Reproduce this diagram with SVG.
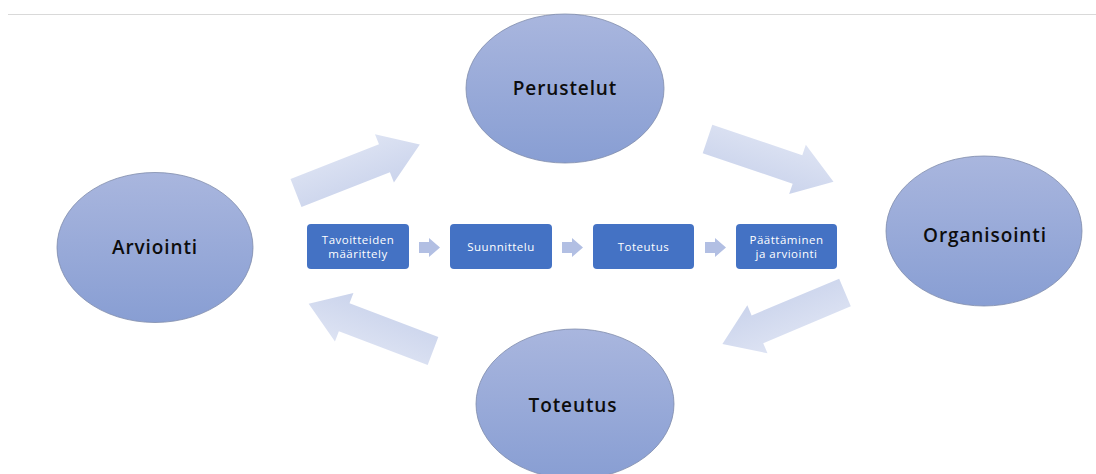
<svg xmlns="http://www.w3.org/2000/svg" width="1096" height="474" viewBox="0 0 1096 474">
  <defs>
    <linearGradient id="ellGrad" x1="0" y1="0" x2="0" y2="1">
      <stop offset="0" stop-color="#a9b6de"/>
      <stop offset="1" stop-color="#889ed3"/>
    </linearGradient>
    <linearGradient id="arrGrad" x1="0" y1="0" x2="0" y2="1">
      <stop offset="0" stop-color="#dde3f3"/>
      <stop offset="1" stop-color="#cbd4ec"/>
    </linearGradient>
    <path id="bigArrow" d="M0,-15 L95,-15 L95,-26 L133,0 L95,26 L95,15 L0,15 Z"/>
    <path id="smallArrow" d="M0,-5.5 L10,-5.5 L10,-9.5 L21,0 L10,9.5 L10,5.5 L0,5.5 Z"/>
  </defs>
  <style>
    .ell { fill: url(#ellGrad); stroke: #7f8bab; stroke-width: 0.8; }
    .big { font-family: "Open Sans", "Liberation Sans", sans-serif; font-size: 19px; font-weight: 600; letter-spacing: 0.9px; fill: #0d0d0d; text-anchor: middle; }
    .box { fill: #4472c4; }
    .small { font-family: "Open Sans", "Liberation Sans", sans-serif; font-size: 11.5px; letter-spacing: 0.5px; fill: #ffffff; text-anchor: middle; }
    .barrow { fill: url(#arrGrad); }
    .sarrow { fill: #b2bfe3; }
  </style>
  <rect x="0" y="0" width="1096" height="474" fill="#ffffff"/>
  <line x1="8" y1="14.5" x2="1096" y2="14.5" stroke="#d9d9d9" stroke-width="1"/>

  <g id="connectors">
    <use href="#bigArrow" class="barrow" transform="translate(296,193) rotate(-21.4)"/>
    <use href="#bigArrow" class="barrow" transform="translate(707.5,139) rotate(18.7)"/>
    <use href="#bigArrow" class="barrow" transform="translate(845,292.5) rotate(157.2)"/>
    <use href="#bigArrow" class="barrow" transform="translate(433,351) rotate(200.8)"/>
    <use href="#smallArrow" class="sarrow" transform="translate(419,247.5)"/>
    <use href="#smallArrow" class="sarrow" transform="translate(562,247.5)"/>
    <use href="#smallArrow" class="sarrow" transform="translate(705,247.5)"/>
  </g>

  <g id="node-perustelut">
    <ellipse class="ell" cx="565" cy="88.5" rx="99" ry="74.5"/>
    <text class="big" x="565" y="95">Perustelut</text>
  </g>
  <g id="node-organisointi">
    <ellipse class="ell" cx="984" cy="231" rx="98" ry="75"/>
    <text class="big" x="985" y="242">Organisointi</text>
  </g>
  <g id="node-toteutus">
    <ellipse class="ell" cx="575" cy="404" rx="99" ry="75"/>
    <text class="big" x="573" y="412">Toteutus</text>
  </g>
  <g id="node-arviointi">
    <ellipse class="ell" cx="155" cy="247.5" rx="98" ry="75"/>
    <text class="big" x="155" y="254">Arviointi</text>
  </g>

  <g id="node-tavoitteiden">
    <rect class="box" x="307" y="224" width="102" height="45" rx="4"/>
    <text class="small" x="358" y="244">Tavoitteiden</text>
    <text class="small" x="358" y="258">määrittely</text>
  </g>
  <g id="node-suunnittelu">
    <rect class="box" x="450" y="224" width="102" height="45" rx="4"/>
    <text class="small" x="501" y="251">Suunnittelu</text>
  </g>
  <g id="node-toteutus-box">
    <rect class="box" x="593" y="224" width="101" height="45" rx="4"/>
    <text class="small" x="643.5" y="251">Toteutus</text>
  </g>
  <g id="node-paattaminen">
    <rect class="box" x="736" y="224" width="101" height="45" rx="4"/>
    <text class="small" x="786.5" y="244">Päättäminen</text>
    <text class="small" x="786.5" y="258">ja arviointi</text>
  </g>
</svg>
